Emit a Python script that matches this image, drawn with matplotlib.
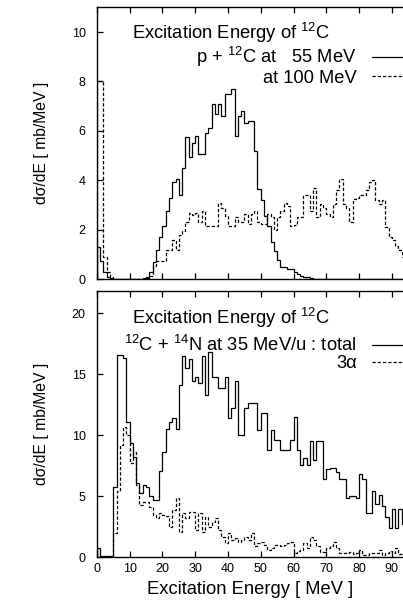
import numpy as np
import matplotlib
matplotlib.use("Agg")
import matplotlib.pyplot as plt

# Fonts: Helvetica-like, as in the gnuplot original
plt.rcParams['font.family'] = ['Liberation Sans', 'DejaVu Sans']
plt.rcParams['mathtext.fontset'] = 'custom'
plt.rcParams['mathtext.rm'] = 'Liberation Sans'
plt.rcParams['mathtext.it'] = 'Liberation Sans:italic'

# Energy bins: 1 MeV wide, starting at 0
bin_edges = np.arange(0, 95, 1)

# Top panel: p + 12C at 55 MeV (solid) and 100 MeV (dashed), mb/MeV
p55 = [1.3, 0.75, 0.3, 0.1, 0.05, 0, 0, 0, 0, 0,
       0, 0, 0, 0, 0.05, 0.1, 0.3, 0.7, 1.2, 1.7,
       2.15, 2.75, 3.3, 3.95, 4.05, 3.4, 4.5, 5.75, 4.95, 5.5,
       5.8, 5.05, 5.05, 5.9, 6.1, 7.1, 6.7, 7.1, 6.6, 7.5,
       7.5, 7.7, 5.8, 6.6, 6.8, 6.3, 6.4, 6.4, 5.2, 3.65,
       3.2, 2.55, 2.15, 1.5, 1.15, 0.8, 0.5, 0.5, 0.4, 0.4,
       0.28, 0.2, 0.15, 0.1, 0.08, 0.05, 0.03, 0, 0, 0,
       0, 0, 0, 0, 0, 0, 0, 0, 0, 0,
       0, 0, 0, 0, 0, 0, 0, 0, 0, 0,
       0, 0, 0, 0]
p100 = [8.0, 8.0, 0.9, 0.3, 0.1, 0, 0, 0, 0, 0,
        0, 0, 0, 0, 0, 0.05, 0.15, 0.55, 0.75, 0.75,
        0.75, 1.2, 1.2, 1.6, 1.2, 1.8, 1.95, 2.3, 2.7, 2.6,
        2.7, 2.3, 2.75, 2.15, 2.15, 2.15, 2.15, 3.1, 2.9, 2.55,
        2.15, 2.15, 2.5, 2.3, 2.3, 2.65, 2.25, 2.65, 2.75, 2.3,
        2.25, 2.25, 2.65, 2.5, 2.0, 2.5, 2.75, 3.1, 2.95, 2.15,
        2.2, 2.5, 2.5, 3.4, 3.4, 2.75, 3.7, 2.5, 3.05, 2.9,
        2.65, 2.5, 3.05, 3.6, 4.05, 3.05, 2.9, 2.3, 3.25, 3.3,
        3.4, 3.4, 3.6, 3.95, 4.0, 3.2, 3.05, 3.2, 2.1, 1.7,
        1.6, 1.35, 1.2, 0.9]

# Bottom panel: 12C + 14N at 35 MeV/u, total (solid) and 3 alpha (dashed)
total = [0.75, 0.15, 0.15, 0.15, 0.15, 5.8, 16.6, 16.6, 16.3, 11.1,
         9.4, 8.2, 6.1, 5.3, 5.9, 5.8, 5.0, 4.7, 4.7, 7.1,
         8.6, 10.5, 11.1, 11.4, 10.5, 14.1, 16.5, 15.5, 16.2, 14.4,
         14.8, 14.3, 16.5, 13.3, 16.8, 14.8, 14.8, 13.9, 13.9, 14.8,
         11.4, 12.2, 14.4, 10.0, 10.0, 12.2, 12.6, 12.6, 12.6, 10.4,
         11.8, 11.8, 8.8, 10.4, 9.6, 9.6, 8.8, 8.8, 8.8, 9.6,
         11.5, 8.8, 7.6, 8.1, 7.6, 9.5, 8.0, 9.5, 9.5, 6.4,
         7.2, 7.3, 7.3, 7.0, 6.4, 6.4, 4.9, 5.0, 5.0, 4.9,
         6.8, 6.4, 3.6, 3.6, 5.4, 4.4, 5.1, 4.2, 3.3, 2.4,
         4.0, 2.4, 4.0, 2.7]
alpha3 = [0, 0, 0, 0, 0, 2.0, 5.4, 9.2, 10.7, 10.0,
          7.7, 8.6, 5.9, 4.3, 4.5, 4.5, 4.1, 3.5, 3.2, 3.6,
          3.5, 3.4, 2.5, 3.9, 4.9, 2.1, 3.6, 3.2, 3.7, 3.7,
          2.25, 3.6, 2.1, 3.35, 2.5, 2.9, 3.2, 2.25, 1.7, 1.2,
          2.0, 1.43, 1.6, 1.3, 1.43, 1.7, 1.43, 2.0, 0.9, 1.2,
          1.3, 1.0, 0.6, 0.75, 1.0, 1.0, 0.9, 1.0, 1.2, 1.3,
          0.4, 0.5, 0.6, 1.16, 0.75, 1.7, 1.4, 0.9, 0.48, 0.48,
          0.75, 0.9, 1.3, 0.75, 0.4, 0.35, 0.35, 0.48, 0.3, 0.4,
          0.6, 0.2, 0.2, 0.35, 0.35, 0.4, 0.6, 0.2, 0.35, 0.5,
          0.35, 0.75, 0.3, 0.3]

x_ticks = np.arange(0, 100, 10)
top_yticks = [0, 2, 4, 6, 8, 10]
bot_yticks = [0, 5, 10, 15, 20]

TITLE = r'Excitation Energy of $^{12}$C'
DASH = (0, (2.6, 1.6))
FS = 13.2

fig = plt.figure(figsize=(4.03, 6.01), dpi=100)
ax1 = fig.add_axes([0.2404, 0.5353, 0.7596, 0.4526])
ax2 = fig.add_axes([0.2404, 0.0724, 0.7596, 0.4434])


def style_axes(ax, ylim, yticks, show_xlabels):
    ax.set_xlim(0, 93.4)
    ax.set_ylim(*ylim)
    ax.set_xticks(x_ticks)
    ax.set_yticks(yticks)
    ax.tick_params(direction='in', length=4.5, width=0.9, top=True,
                   right=False, labelsize=9)
    ax.tick_params(axis='y', pad=8)
    ax.tick_params(axis='x', pad=4)
    if not show_xlabels:
        ax.tick_params(labelbottom=False)
    for side in ['left', 'bottom', 'top']:
        ax.spines[side].set_linewidth(1.0)
    ax.spines['right'].set_visible(False)
    ax.set_ylabel('dσ/dE [ mb/MeV ]', fontsize=11.3)
    ax.yaxis.set_label_coords(-0.158, 0.5)


def add_legend(ax, y):
    ax.legend(loc='upper right', bbox_to_anchor=(1.023, y), frameon=False,
              fontsize=FS, markerfirst=False, handlelength=2.1,
              handletextpad=0.8, borderpad=0, borderaxespad=0,
              labelspacing=0.02)


# top panel
ax1.stairs(p55, bin_edges, color='black', lw=0.9,
           label=r'p + $^{12}$C at   55 MeV')
ax1.stairs(p100, bin_edges, color='black', lw=0.9, linestyle=DASH,
           label='at 100 MeV')
style_axes(ax1, (0, 11.0), top_yticks, False)
ax1.text(0.114, 0.905, TITLE, transform=ax1.transAxes, fontsize=FS,
         va='center', ha='left')
add_legend(ax1, 0.86)

# bottom panel
ax2.stairs(total, bin_edges, color='black', lw=0.9,
           label=r'$^{12}$C + $^{14}$N at 35 MeV/u : total')
ax2.stairs(alpha3, bin_edges, color='black', lw=0.9, linestyle=DASH,
           label='3α')
style_axes(ax2, (0, 21.8), bot_yticks, True)
ax2.text(0.114, 0.9, TITLE, transform=ax2.transAxes, fontsize=FS,
         va='center', ha='left')
add_legend(ax2, 0.835)
ax2.set_xlabel('Excitation Energy [ MeV ]', fontsize=FS, labelpad=4)

fig.savefig('out.png', dpi=100)
